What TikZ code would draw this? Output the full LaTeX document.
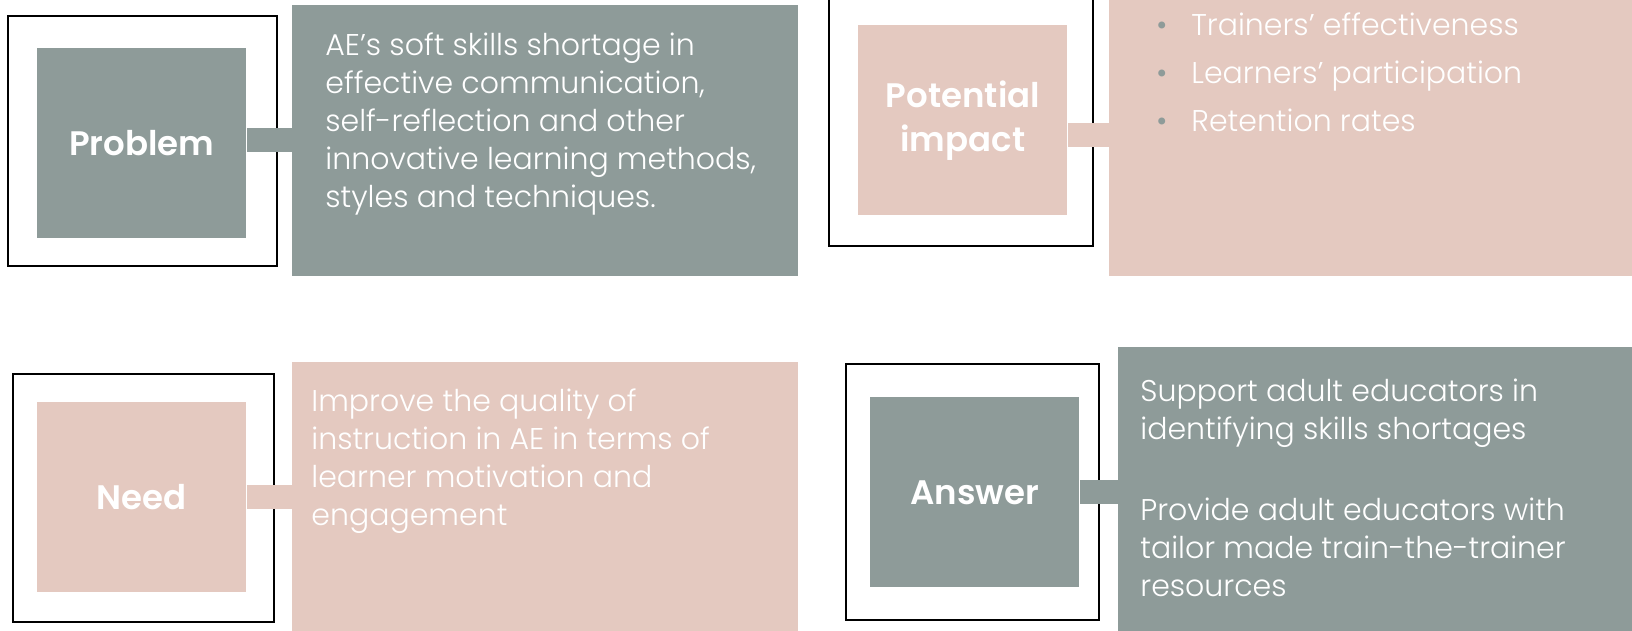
\documentclass[tikz,border=0pt]{standalone}
\usepackage{fontspec}
\setmainfont{Poppins}[UprightFont=* Light, BoldFont=* SemiBold]
\definecolor{sage}{HTML}{8E9B99}
\definecolor{rose}{HTML}{E4C9C0}
\tikzset{
  frame/.style={draw=black, line width=1pt, inner sep=0, anchor=north west},
  tile/.style={inner sep=0, anchor=north west, minimum width=104.5pt, minimum height=95pt,
    text=white, font=\bfseries\fontsize{17}{22}\selectfont, align=center},
  panel/.style={inner sep=0, anchor=north west},
  body/.style={text=white, font=\fontsize{15}{19}\selectfont, align=left, inner sep=0, anchor=north west},
  conn/.style={line width=12pt}
}
\begin{document}
\begin{tikzpicture}[x=0.5pt,y=-0.5pt]
\useasboundingbox (0,0) rectangle (1632,631);
% frames
\node[frame, minimum width=134.5pt, minimum height=125pt] (pf) at (7,15) {};
\node[frame, minimum width=132pt, minimum height=125pt] (if) at (828,-5) {};
\node[frame, minimum width=130.5pt, minimum height=124pt] (nf) at (12,373) {};
\node[frame, minimum width=126.5pt, minimum height=128pt] (af) at (845,363) {};
% panels
\node[panel, fill=sage, minimum width=253pt, minimum height=135.5pt] (pt) at (292,5) {};
\node[panel, fill=rose, minimum width=265.5pt, minimum height=140.5pt] (it) at (1109,-5) {};
\node[panel, fill=rose, minimum width=253pt, minimum height=139pt] (nt) at (292,362) {};
\node[panel, fill=sage, minimum width=261pt, minimum height=146.5pt] (at) at (1118,347) {};
% tiles
\node[tile, fill=sage] (p) at (37,48) {Problem};
\node[tile, fill=rose] (i) at (858,25) {Potential\\impact};
\node[tile, fill=rose] (n) at (37,402) {Need};
\node[tile, fill=sage] (a) at (870,397) {Answer};
% connectors
\draw[conn, sage] ([yshift=1.5pt]p.east) -- ([yshift=1.5pt]p.east -| pt.west);
\draw[conn, rose] ([yshift=-7.5pt]i.east) -- ([yshift=-7.5pt]i.east -| it.west);
\draw[conn, rose] (n.east) -- (n.east -| nt.west);
\draw[conn, sage] (a.east) -- (a.east -| at.west);
% texts
\node[body] (ptx) at (325,32) {AE’s soft skills shortage in\\effective communication,\\self-reflection and other\\innovative learning methods,\\styles and techniques.};
\node[body, font=\fontsize{15}{24}\selectfont] (itx) at (1156,12) {{\color{sage}\textbullet}\hspace{12pt}Trainers’ effectiveness\\{\color{sage}\textbullet}\hspace{12pt}Learners’ participation\\{\color{sage}\textbullet}\hspace{12pt}Retention rates};
\node[body] (ntx) at (311,388) {Improve the quality of\\instruction in AE in terms of\\learner motivation and\\engagement};
\node[body] (atx) at (1140,379) {Support adult educators in\\identifying skills shortages\\[21.5pt]Provide adult educators with\\tailor made train-the-trainer\\resources};
\end{tikzpicture}
\end{document}
